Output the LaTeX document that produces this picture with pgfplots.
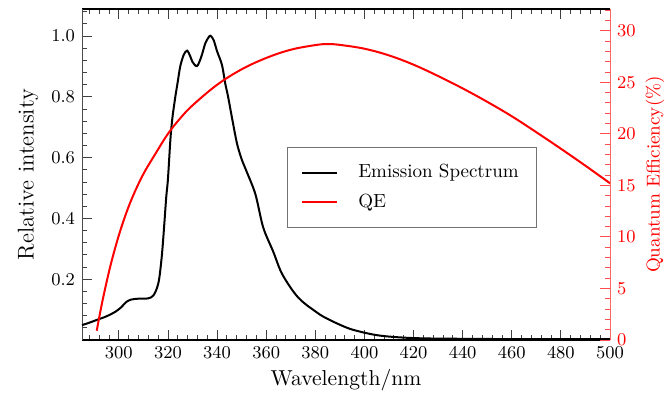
\documentclass[border=0pt]{standalone}
\usepackage{pgfplots}
\pgfplotsset{compat=1.18}
\begin{document}
\begin{tikzpicture}
\path[use as bounding box] (-41pt,-26.5pt) rectangle (291.5pt,170pt);
\begin{axis}[
  scale only axis, width=264pt, height=165.5pt,
  at={(0,0)}, anchor=south west,
  xmin=285, xmax=500, ymin=0, ymax=1.089,
  axis y line*=left,
  tick align=inside,
  major tick length=5pt, minor tick length=2.7pt,
  xtick={300,320,...,500}, minor xtick={288,292,...,500},
  ytick={0.2,0.4,0.6,0.8,1.0},
  minor ytick={0.04,0.08,0.12,0.16,0.24,0.28,0.32,0.36,0.44,0.48,0.52,0.56,0.64,0.68,0.72,0.76,0.84,0.88,0.92,0.96,1.04,1.08},
  yticklabel style={/pgf/number format/.cd,fixed,fixed zerofill,precision=1},
  tick label style={font=\fontsize{9.5}{11}\selectfont},
  every tick/.style={black!75},
  x axis line style={black, line width=0.6pt},
  y axis line style={black!70},
  xlabel={Wavelength/nm},
  xlabel style={font=\fontsize{10.8}{12}\selectfont, at={(axis description cs:0.5,-0.121)}, anchor=center},
  ylabel={Relative intensity},
  ylabel style={font=\fontsize{11.4}{13}\selectfont, at={(axis description cs:-0.102,0.5)}, anchor=center},
  legend image code/.code={\draw[#1] (0pt,0pt) -- (17.5pt,0pt);},
  legend cell align=left,
  legend style={at={(0.388,0.583)}, anchor=north west, draw=black!55, fill=white,
    font=\fontsize{9.5}{11}\selectfont, inner xsep=7pt, inner ysep=6.5pt,
    nodes={inner sep=2pt, text height=6.7pt, text depth=1.9pt},
    row sep=2pt, /tikz/every odd column/.style={column sep=8pt}},
]
\addplot[black, line width=1pt, smooth] coordinates {
(285,0.049) (288,0.057) (291,0.066) (295,0.078) (298.6,0.093) (301,0.108) (303,0.125)
(305,0.133) (308,0.136) (312,0.137) (314,0.146) (315.5,0.170) (316.5,0.205) (317.6,0.285)
(318.5,0.38) (319.3,0.47) (320,0.53) (321,0.66) (321.8,0.73) (323,0.80) (324,0.85)
(325,0.90) (326.4,0.938) (327.8,0.952) (329,0.935) (330,0.915) (331.8,0.901) (333.5,0.930)
(335.2,0.976) (336.5,0.995) (337.3,1.001) (338.6,0.987) (340,0.950) (342,0.905) (343.3,0.845)
(344.5,0.80) (346.1,0.730) (348.1,0.647) (350,0.595) (352,0.555) (355.6,0.480) (358.8,0.37)
(362.9,0.29) (366,0.225) (369.7,0.175) (373,0.14) (376,0.118) (379.2,0.099) (383,0.078)
(388.7,0.055) (394,0.037) (399.5,0.025) (405,0.016) (410.4,0.011) (418,0.007) (426.7,0.005)
(440,0.004) (460,0.003) (480,0.003) (500,0.003)
};
\addlegendentry{Emission Spectrum}
\addlegendimage{red, line width=1pt}
\addlegendentry{QE}
\end{axis}
\begin{axis}[
  scale only axis, width=264pt, height=165.5pt,
  at={(0,0)}, anchor=south west,
  xmin=285, xmax=500, ymin=0, ymax=32.1,
  axis y line*=right, axis x line=none,
  tick align=inside,
  major tick length=5pt, minor tick length=2.7pt,
  ytick={0,5,...,30}, minor ytick={0,1,...,32},
  y axis line style={red!60},
  every tick/.style={red!70},
  yticklabel style={red, font=\fontsize{9.5}{11}\selectfont},
  ylabel={Quantum Efficiency(\%)},
  ylabel style={red, font=\fontsize{9.3}{11}\selectfont, at={(axis description cs:1.085,0.5)}, anchor=center},
]
\addplot[red, line width=1pt, smooth, tension=0.6] coordinates {
(291,0.9) (293,3.4) (295,5.6) (297,7.6) (300,10.15) (303,12.3) (306,14.1) (310,16.1)
(315,18.1) (320,20.0) (325,21.5) (330,22.75) (340,24.75) (350,26.25) (360,27.35)
(370,28.15) (380,28.6) (385,28.7) (390,28.62) (400,28.25) (410,27.6) (420,26.7)
(430,25.6) (440,24.4) (450,23.1) (460,21.7) (470,20.15) (480,18.55) (490,16.9) (500,15.2)
};
\end{axis}
\end{tikzpicture}
\end{document}
